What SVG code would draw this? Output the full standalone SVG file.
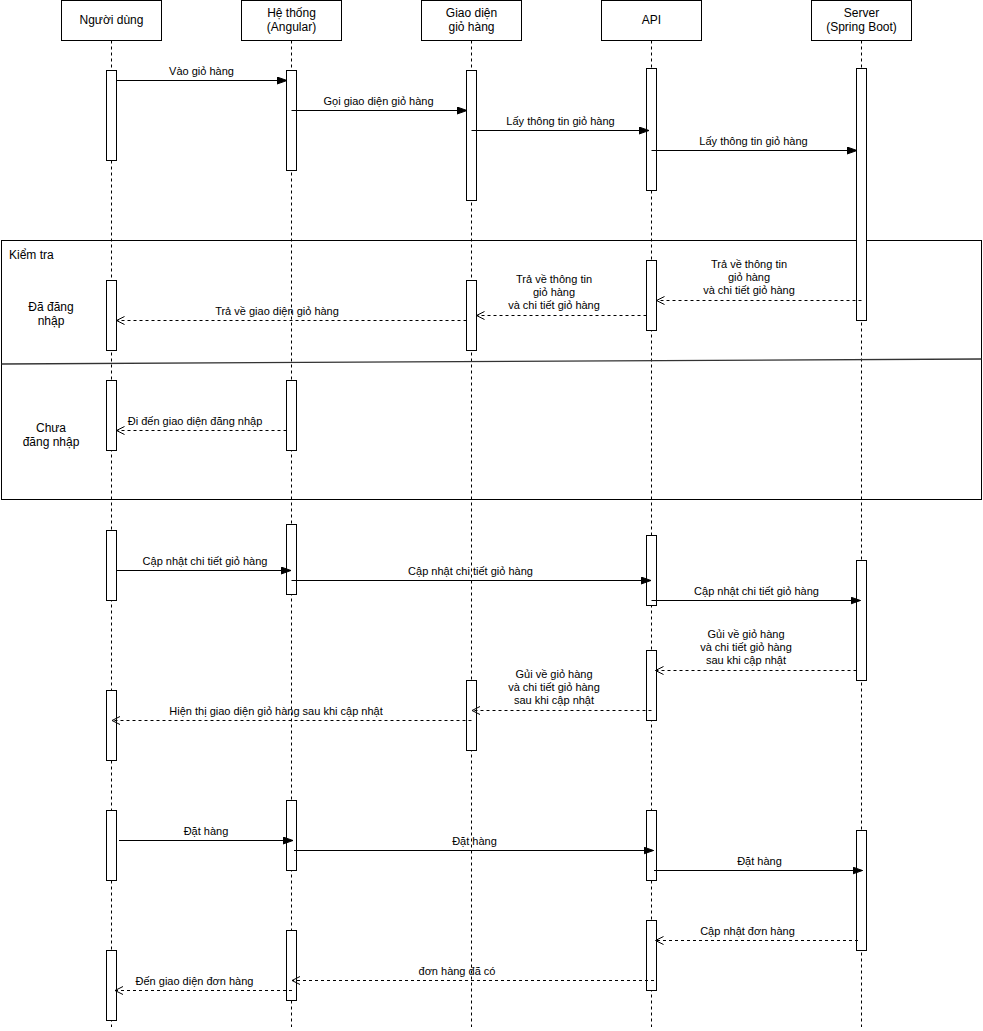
<svg xmlns="http://www.w3.org/2000/svg" width="983" height="1031" viewBox="0 0 983 1031">
<style>
text{font-family:"Liberation Sans",Arial,sans-serif;fill:#000}
.hdr{font-size:12px;text-anchor:middle}
.lbl{font-size:11px;text-anchor:middle}
.box{fill:#fff;stroke:#000;stroke-width:1}
.life{stroke:#000;stroke-width:1;stroke-dasharray:3 3;fill:none}
.act{fill:#fff;stroke:#000;stroke-width:1}
.msg{stroke:#000;stroke-width:1;fill:none;marker-end:url(#block)}
.ret{stroke:#000;stroke-width:1;fill:none;stroke-dasharray:3 3;marker-end:url(#open)}
.frm{fill:none;stroke:#000;stroke-width:1}
.big{font-size:12px}
</style>
<defs>
<marker id="block" markerUnits="userSpaceOnUse" markerWidth="11" markerHeight="8" refX="10" refY="4" orient="auto" viewBox="0 0 11 8">
<path d="M0,0.5 L10,4 L0,7.5 Z" fill="#000" stroke="#000" stroke-width="1"/>
</marker>
<marker id="open" markerUnits="userSpaceOnUse" markerWidth="10" markerHeight="10" refX="9" refY="5" orient="auto" viewBox="0 0 10 10">
<path d="M1,1 L9,5 L1,9" fill="none" stroke="#000" stroke-width="1"/>
</marker>
</defs>
<rect width="983" height="1031" fill="#fff"/>

<g id="lifelines">
<line class="life" x1="111.5" y1="40.5" x2="111.5" y2="1027"/>
<line class="life" x1="291.5" y1="40.5" x2="291.5" y2="1027"/>
<line class="life" x1="471.5" y1="40.5" x2="471.5" y2="1027"/>
<line class="life" x1="651.5" y1="40.5" x2="651.5" y2="1027"/>
<line class="life" x1="861.5" y1="40.5" x2="861.5" y2="1027"/>
</g>

<g id="frame-kiem-tra">
<rect class="frm" x="1.5" y="240.5" width="980" height="259"/>
<line x1="1.5" y1="364" x2="981.5" y2="359" stroke="#333" stroke-width="1.3"/>
<text class="big" x="9" y="259">Kiểm tra</text>
<text class="big" x="51" y="311" text-anchor="middle">Đã đăng</text>
<text class="big" x="51" y="325" text-anchor="middle">nhập</text>
<text class="big" x="51" y="432" text-anchor="middle">Chưa</text>
<text class="big" x="51" y="446" text-anchor="middle">đăng nhập</text>
</g>

<g id="node-nguoi-dung">
<rect class="box" x="61.5" y="0.5" width="100" height="40"/>
<text class="hdr" x="111.5" y="24">Người dùng</text>
<rect class="act" x="106.5" y="70.5" width="10" height="90"/>
<rect class="act" x="106.5" y="280.5" width="10" height="70"/>
<rect class="act" x="106.5" y="380.5" width="10" height="70"/>
<rect class="act" x="106.5" y="530.5" width="10" height="70"/>
<rect class="act" x="106.5" y="690.5" width="10" height="70"/>
<rect class="act" x="106.5" y="810.5" width="10" height="70"/>
<rect class="act" x="106.5" y="950.5" width="10" height="70"/>
</g>

<g id="node-he-thong">
<rect class="box" x="241.5" y="0.5" width="100" height="40"/>
<text class="hdr" x="291.5" y="17">Hệ thống</text>
<text class="hdr" x="291.5" y="31">(Angular)</text>
<rect class="act" x="286.5" y="70.5" width="10" height="100"/>
<rect class="act" x="286.5" y="380.5" width="10" height="70"/>
<rect class="act" x="286.5" y="524.5" width="10" height="70"/>
<rect class="act" x="286.5" y="800.5" width="10" height="70"/>
<rect class="act" x="286.5" y="930.5" width="10" height="70"/>
</g>

<g id="node-giao-dien">
<rect class="box" x="421.5" y="0.5" width="100" height="40"/>
<text class="hdr" x="471.5" y="17">Giao diện</text>
<text class="hdr" x="471.5" y="31">giỏ hàng</text>
<rect class="act" x="466.5" y="70.5" width="10" height="130"/>
<rect class="act" x="466.5" y="280.5" width="10" height="70"/>
<rect class="act" x="466.5" y="680.5" width="10" height="70"/>
</g>

<g id="node-api">
<rect class="box" x="601.5" y="0.5" width="100" height="40"/>
<text class="hdr" x="651.5" y="24">API</text>
<rect class="act" x="646.5" y="68.5" width="10" height="122"/>
<rect class="act" x="646.5" y="260.5" width="10" height="70"/>
<rect class="act" x="646.5" y="535.5" width="10" height="70"/>
<rect class="act" x="646.5" y="650.5" width="10" height="70"/>
<rect class="act" x="646.5" y="810.5" width="10" height="70"/>
<rect class="act" x="646.5" y="920.5" width="10" height="70"/>
</g>

<g id="node-server">
<rect class="box" x="811.5" y="0.5" width="100" height="40"/>
<text class="hdr" x="861.5" y="17">Server</text>
<text class="hdr" x="861.5" y="31">(Spring Boot)</text>
<rect class="act" x="856.5" y="68.5" width="10" height="252"/>
<rect class="act" x="856.5" y="560.5" width="10" height="120"/>
<rect class="act" x="856.5" y="830.5" width="10" height="120"/>
</g>

<g id="connectors">
<line class="msg" x1="116.5" y1="80.5" x2="287" y2="80.5"/>
<text class="lbl" x="201.5" y="74.5">Vào giỏ hàng</text>

<line class="msg" x1="291.5" y1="110.5" x2="467" y2="110.5"/>
<text class="lbl" x="378.5" y="104.5">Gọi giao diện giỏ hàng</text>

<line class="msg" x1="471.5" y1="130.5" x2="649" y2="130.5"/>
<text class="lbl" x="560.5" y="124.5">Lấy thông tin giỏ hàng</text>

<line class="msg" x1="651.5" y1="150.5" x2="857" y2="150.5"/>
<text class="lbl" x="753.5" y="144.5">Lấy thông tin giỏ hàng</text>

<line class="ret" x1="861.5" y1="300.5" x2="656.5" y2="300.5"/>
<text class="lbl" x="749" y="268">Trả về thông tin</text>
<text class="lbl" x="749" y="281">giỏ hàng</text>
<text class="lbl" x="749" y="294">và chi tiết giỏ hàng</text>

<line class="ret" x1="646.5" y1="315.5" x2="476.5" y2="315.5"/>
<text class="lbl" x="554" y="283">Trả về thông tin</text>
<text class="lbl" x="554" y="296">giỏ hàng</text>
<text class="lbl" x="554" y="309">và chi tiết giỏ hàng</text>

<line class="ret" x1="466.5" y1="320.5" x2="116.5" y2="320.5"/>
<text class="lbl" x="277" y="314.5">Trả về giao diện giỏ hàng</text>

<line class="ret" x1="286.5" y1="430.5" x2="116.5" y2="430.5"/>
<text class="lbl" x="195" y="424.5">Đi đến giao diện đăng nhập</text>

<line class="msg" x1="116.5" y1="570.5" x2="291" y2="570.5"/>
<text class="lbl" x="205" y="564.5">Cập nhật chi tiết giỏ hàng</text>

<line class="msg" x1="291.5" y1="580.5" x2="651" y2="580.5"/>
<text class="lbl" x="470.5" y="574.5">Cập nhật chi tiết giỏ hàng</text>

<line class="msg" x1="651.5" y1="600.5" x2="860.5" y2="600.5"/>
<text class="lbl" x="756.5" y="594.5">Cập nhật chi tiết giỏ hàng</text>

<line class="ret" x1="856.5" y1="670.5" x2="655.5" y2="670.5"/>
<text class="lbl" x="746" y="638">Gủi về giỏ hàng</text>
<text class="lbl" x="746" y="651">và chi tiết giỏ hàng</text>
<text class="lbl" x="746" y="664">sau khi cập nhật</text>

<line class="ret" x1="651.5" y1="710.5" x2="472" y2="710.5"/>
<text class="lbl" x="554" y="678">Gủi về giỏ hàng</text>
<text class="lbl" x="554" y="691">và chi tiết giỏ hàng</text>
<text class="lbl" x="554" y="704">sau khi cập nhật</text>

<line class="ret" x1="471.5" y1="720.5" x2="112" y2="720.5"/>
<text class="lbl" x="276" y="714.5">Hiện thị giao diện giỏ hàng sau khi cập nhật</text>

<line class="msg" x1="119" y1="840.5" x2="293" y2="840.5"/>
<text class="lbl" x="206" y="834.5">Đặt hàng</text>

<line class="msg" x1="294" y1="850.5" x2="653.5" y2="850.5"/>
<text class="lbl" x="474.5" y="844.5">Đặt hàng</text>

<line class="msg" x1="654" y1="870.5" x2="862.5" y2="870.5"/>
<text class="lbl" x="759.5" y="864.5">Đặt hàng</text>

<line class="ret" x1="858" y1="940.5" x2="655.5" y2="940.5"/>
<text class="lbl" x="747.5" y="934.5">Cập nhật đơn hàng</text>

<line class="ret" x1="654" y1="980.5" x2="292" y2="980.5"/>
<text class="lbl" x="457" y="974.5">đơn hàng đã có</text>

<line class="ret" x1="292" y1="990.5" x2="115" y2="990.5"/>
<text class="lbl" x="194.5" y="984.5">Đến giao diện đơn hàng</text>
</g>
</svg>
